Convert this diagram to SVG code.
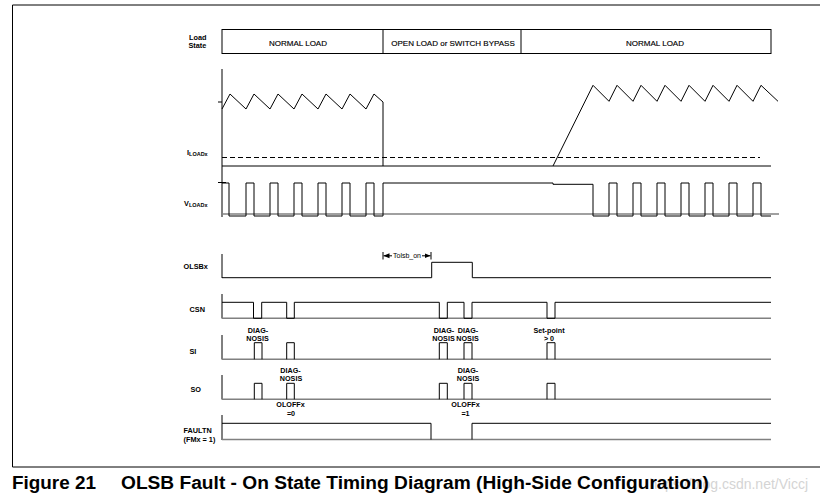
<svg xmlns="http://www.w3.org/2000/svg" width="820" height="500" viewBox="0 0 820 500">
<defs>
<style>
.w{fill:none;stroke:#000;stroke-width:1}
.base{fill:none;stroke:#808080;stroke-width:1.5}
.lbl{font-family:"Liberation Sans",Arial,sans-serif;font-size:7.3px;font-weight:bold;fill:#000}
.box{font-family:"Liberation Sans",Arial,sans-serif;font-size:8px;fill:#000;text-anchor:middle;stroke:#000;stroke-width:0.15}
.dg{font-family:"Liberation Sans",Arial,sans-serif;font-size:7.2px;font-weight:bold;fill:#000;text-anchor:middle}
.cap{font-family:"Liberation Sans",Arial,sans-serif;font-size:18px;font-weight:bold;fill:#000}
</style>
<marker id="ah" viewBox="0 0 6 6" refX="6" refY="3" markerWidth="6" markerHeight="6" orient="auto-start-reverse" markerUnits="userSpaceOnUse">
<path d="M0,0.5 L6,3 L0,5.5 Z" fill="#000"/>
</marker>
</defs>
<rect width="820" height="500" fill="#fff"/>
<path class="w" d="M820,5 H12.5 V467 H820" stroke-width="1.3"/>

<g id="loadstate">
<text class="lbl" x="189" y="39.5">Load</text>
<text class="lbl" x="188.5" y="47.5">State</text>
<rect class="w" x="222" y="29.5" width="549" height="24"/>
<path class="w" d="M383,29.5 V53.5 M521,29.5 V53.5"/>
<text class="box" x="298" y="46">NORMAL LOAD</text>
<text class="box" x="453" y="46">OPEN LOAD or SWITCH BYPASS</text>
<text class="box" x="655" y="46">NORMAL LOAD</text>
</g>

<g id="iload">
<text class="lbl" x="187" y="155" font-size="8">I<tspan font-size="5.5" dy="1">LOADx</tspan></text>
<path class="w" d="M222,69 V217 M218,102 H222"/>
<path class="w" d="M222,166 H771"/>
<path class="w" d="M222,157.5 H760" stroke-width="1.4" stroke-dasharray="5 3"/>
<path class="w" d="M222,109 L230,94 L246,109 L254,94 L270,109 L278,94 L294,109 L302,94 L318,109 L326,94 L342,109 L350,94 L366,109 L374,94 L383,102 L383,166"/>
<path class="w" d="M553,166 L593,85.3 L609,101.3 L617,85.3 L633,101.3 L641,85.3 L657,101.3 L665,85.3 L681,101.3 L689,85.3 L705,101.3 L713,85.3 L729,101.3 L737,85.3 L753,101.3 L761,85.3 L778,101.3"/>
</g>

<g id="vload">
<text class="lbl" x="184" y="206" font-size="8">V<tspan font-size="5.5" dy="1">LOADx</tspan></text>
<path class="w" d="M218,182.5 H226"/>
<path class="base" d="M222,214 H779"/>
<path class="w" d="M222,183 H229 V216 H246 V183 H254 V216 H270 V183 H278 V216 H294 V183 H302 V216 H318 V183 H326 V216 H342 V183 H350 V216 H366 V183 H374 V216 H383 V183 H553 V184.3 H593 V216 H609 V183 H617 V216 H633 V183 H641 V216 H657 V183 H665 V216 H681 V183 H689 V216 H705 V183 H713 V216 H729 V183 H737 V216 H753 V183 H761 V216 H771"/>
</g>

<g id="olsbx">
<text class="lbl" x="183.5" y="269">OLSBx</text>
<path class="w" d="M222,254 V278"/>
<path class="w" d="M222,277.7 H431.7 V262.3 H472.3 V277.7 H771"/>
<path class="w" d="M383,252 V259.5 M431,252 V259.5"/>
<path class="w" d="M392,255.8 H383.5" marker-end="url(#ah)"/>
<path class="w" d="M422,255.8 H430.5" marker-end="url(#ah)"/>
<text x="407" y="258" font-family="Liberation Sans, Arial, sans-serif" font-size="7" text-anchor="middle">Tolsb_on</text>
</g>

<g id="csn">
<text class="lbl" x="189.5" y="312">CSN</text>
<path class="w" d="M222,294 V318.5"/>
<path class="base" d="M222,318.3 H771"/>
<path class="w" d="M222,302.3 H253.5 V318.3 H261.7 V302.3 H286.7 V318.3 H294.3 V302.3 H439.3 V318.3 H447.3 V302.3 H464 V318.3 H472 V302.3 H547 V318.3 H555 V302.3 H771"/>
</g>

<g id="si">
<text class="lbl" x="189.5" y="353.5">SI</text>
<path class="w" d="M222,335 V359.5"/>
<path class="base" d="M222,359.3 H771"/>
<path class="w" d="M254.3,359.3 V342.7 H262 V359.3 M286.7,359.3 V342.7 H294.3 V359.3 M439.3,359.3 V342.7 H447.3 V359.3 M464,359.3 V342.7 H472 V359.3 M547,359.3 V342.7 H555 V359.3"/>
<text class="dg" x="258" y="332.5">DIAG-</text>
<text class="dg" x="257.5" y="341">NOSIS</text>
<text class="dg" x="444" y="332.5">DIAG-</text>
<text class="dg" x="443.5" y="341">NOSIS</text>
<text class="dg" x="468" y="332.5">DIAG-</text>
<text class="dg" x="467.5" y="341">NOSIS</text>
<text class="dg" x="549" y="332.5">Set-point</text>
<text class="dg" x="549" y="341">&gt; 0</text>
</g>

<g id="so">
<text class="lbl" x="190.5" y="392">SO</text>
<path class="w" d="M222,375 V399.5"/>
<path class="base" d="M222,399.3 H771"/>
<path class="w" d="M254.3,399.3 V383.3 H262 V399.3 M286.7,399.3 V383.3 H294.3 V399.3 M439.3,399.3 V383.3 H447.3 V399.3 M464,399.3 V383.3 H472 V399.3 M547,399.3 V383.3 H555 V399.3"/>
<text class="dg" x="290.5" y="372.5">DIAG-</text>
<text class="dg" x="291" y="381">NOSIS</text>
<text class="dg" x="468" y="372.5">DIAG-</text>
<text class="dg" x="468" y="381">NOSIS</text>
<text class="dg" x="290.5" y="407" font-size="7">OLOFFx</text>
<text class="dg" x="291" y="415.5" font-size="7">=0</text>
<text class="dg" x="465.5" y="407" font-size="7">OLOFFx</text>
<text class="dg" x="465.5" y="415.5" font-size="7">=1</text>
</g>

<g id="faultn">
<text class="lbl" x="183.5" y="433">FAULTN</text>
<text class="lbl" x="183.5" y="441.5">(FMx = 1)</text>
<path class="w" d="M222,415 V440"/>
<path class="base" d="M222,439.5 H771"/>
<path class="w" d="M222,423.3 H431 V439.5 M472,439.5 V423.3 H771"/>
</g>

<g id="caption">
<text x="808" y="489" font-family="Liberation Sans, Arial, sans-serif" font-size="14" fill="#d4d4d4" text-anchor="end">https://blog.csdn.net/Viccj</text>
<text class="cap" x="12" y="489" textLength="84" lengthAdjust="spacingAndGlyphs">Figure 21</text>
<text class="cap" x="121" y="489" textLength="588" lengthAdjust="spacingAndGlyphs">OLSB Fault - On State Timing Diagram (High-Side Configuration)</text>
</g>
</svg>
